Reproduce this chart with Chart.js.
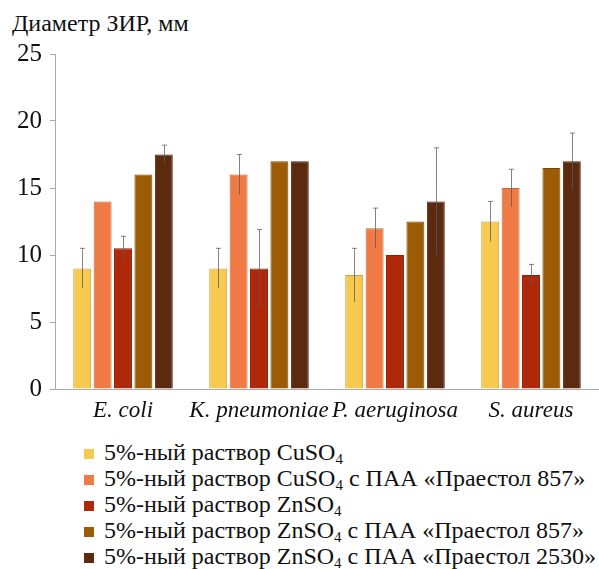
<!DOCTYPE html>
<html>
<head>
<meta charset="utf-8">
<script src="https://cdn.jsdelivr.net/npm/chart.js@4"></script>
<style>
    body { margin: 0; background: #fff; width: 599px; height: 569px; position: relative; overflow: hidden; }
    #titulo { position: absolute; left: 12px; top: 11px; font-family: "Liberation Serif", serif; font-size: 24px; line-height: 24px; color: #111; white-space: nowrap; }
    #grafica { position: absolute; left: 0; top: 0; }
    #leyenda { position: absolute; left: 84px; top: 439px; font-family: "Liberation Serif", serif; font-size: 24px; color: #111; }
    .item { height: 26px; line-height: 26px; white-space: nowrap; }
    .cuadro { display: inline-block; width: 10px; height: 10px; margin-right: 10px; vertical-align: 1px; }
    sub { font-size: 15px; vertical-align: -4px; line-height: 0; }
</style>
</head>
<body>
<div id="titulo">Диаметр ЗИР, мм</div>
<canvas id="grafica" width="599" height="432"></canvas>
<div id="leyenda"></div>
<script>
// datos
const bacterias = ['E. coli', 'K. pneumoniae', 'P. aeruginosa', 'S. aureus'];
const series = [
    '5%-ный раствор CuSO<sub>4</sub>',
    '5%-ный раствор CuSO<sub>4</sub> с ПАА «Праестол 857»',
    '5%-ный раствор ZnSO<sub>4</sub>',
    '5%-ный раствор ZnSO<sub>4</sub> с ПАА «Праестол 857»',
    '5%-ный раствор ZnSO<sub>4</sub> с ПАА «Праестол 2530»'
];
const cuso4 = [9, 9, 8.5, 12.5];
const cuso4Paa857 = [14, 16, 12, 15];
const znso4 = [10.5, 9, 10, 8.5];
const znso4Paa857 = [16, 17, 12.5, 16.5];
const znso4Paa2530 = [17.5, 17, 14, 17];
// desviaciones (barras de error)
const errCuso4 = [1.5, 1.5, 2, 1.5];
const errCuso4Paa857 = [0, 1.5, 1.5, 1.4];
const errZnso4 = [0.9, 2.9, 0, 0.8];
const errZnso4Paa857 = [0, 0, 0, 0];
const errZnso4Paa2530 = [0.7, 0, 4, 2.1];
const ticksY = [0, 5, 10, 15, 20, 25];

const valores = [cuso4, cuso4Paa857, znso4, znso4Paa857, znso4Paa2530];
const errores = [errCuso4, errCuso4Paa857, errZnso4, errZnso4Paa857, errZnso4Paa2530];
const colores = ['#f7c94f', '#f07a43', '#b0280a', '#9c5c05', '#5c2a0e'];
const bordes = ['#c9a03a', '#c8633a', '#8c2008', '#7a4804', '#45200a'];

const serif = '"Liberation Serif", "Times New Roman", serif';

const erroresPlugin = {
    id: 'errores',
    afterDatasetsDraw(chart) {
        const ctx = chart.ctx;
        const y = chart.scales.y;
        ctx.save();
        ctx.strokeStyle = 'rgba(90,90,90,0.75)';
        ctx.lineWidth = 1;
        chart.data.datasets.forEach((ds, i) => {
            const meta = chart.getDatasetMeta(i);
            meta.data.forEach((bar, j) => {
                const e = errores[i][j];
                if (!e) return;
                const v = ds.data[j];
                const x = Math.round(bar.x) + 0.5;
                const yArriba = y.getPixelForValue(v + e);
                const yAbajo = y.getPixelForValue(v - e);
                ctx.beginPath();
                ctx.moveTo(x, yAbajo);
                ctx.lineTo(x, yArriba);
                ctx.moveTo(x - 2.5, yArriba);
                ctx.lineTo(x + 2.5, yArriba);
                ctx.stroke();
            });
        });
        ctx.restore();
    }
};

new Chart(document.getElementById('grafica'), {
    type: 'bar',
    data: {
        labels: bacterias,
        datasets: valores.map((d, i) => ({
            label: series[i],
            data: d,
            backgroundColor: colores[i],
            borderColor: bordes[i],
            borderWidth: 1,
            categoryPercentage: 0.75,
            barPercentage: 0.88
        }))
    },
    options: {
        responsive: false,
        animation: false,
        layout: { padding: { top: 54, right: 0, left: 0, bottom: 0 } },
        plugins: {
            legend: { display: false },
            tooltip: { enabled: false }
        },
        scales: {
            x: {
                grid: { display: false, drawTicks: false },
                border: { display: true, color: '#aaa', width: 1 },
                ticks: {
                    color: '#111', padding: 8, maxRotation: 0, minRotation: 0, autoSkip: false,
                    font: { family: serif, size: 23, style: 'italic' }
                },
                afterFit: s => { s.height = 43; }
            },
            y: {
                min: 0,
                max: 25,
                afterBuildTicks: s => { s.ticks = ticksY.map(v => ({ value: v })); },
                grid: { drawOnChartArea: false, drawTicks: true, tickLength: 5, color: '#aaa' },
                border: { display: true, color: '#aaa', width: 1 },
                ticks: { color: '#111', padding: 8, font: { family: serif, size: 25 } },
                afterFit: s => { s.width = 55; }
            }
        }
    },
    plugins: [erroresPlugin]
});

document.getElementById('leyenda').innerHTML = series.map((s, i) =>
    `<div class="item"><span class="cuadro" style="background:${colores[i]}"></span>${s}</div>`
).join('');
</script>
</body>
</html>
